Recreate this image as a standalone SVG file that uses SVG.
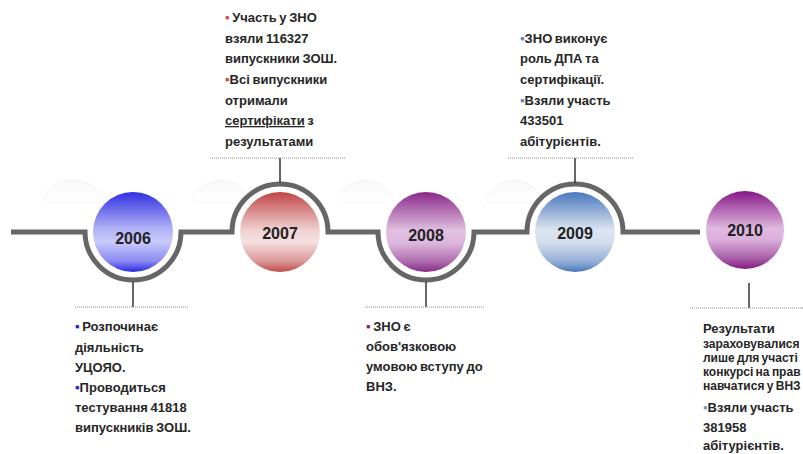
<svg xmlns="http://www.w3.org/2000/svg" width="803" height="454" viewBox="0 0 803 454">
<defs>
<linearGradient id="g2006" x1="0" y1="0" x2="0" y2="1">
<stop offset="0" stop-color="#2f2fe0"/><stop offset="0.45" stop-color="#aeb0f6"/><stop offset="0.62" stop-color="#cacafa"/><stop offset="0.86" stop-color="#8c8cf2"/><stop offset="1" stop-color="#2a2ae4"/>
</linearGradient>
<linearGradient id="g2007" x1="0" y1="0" x2="0" y2="1">
<stop offset="0" stop-color="#c04646"/><stop offset="0.48" stop-color="#f1d2d2"/><stop offset="0.62" stop-color="#f5dfdf"/><stop offset="0.86" stop-color="#dc9a9a"/><stop offset="1" stop-color="#c04c4c"/>
</linearGradient>
<linearGradient id="g2008" x1="0" y1="0" x2="0" y2="1">
<stop offset="0" stop-color="#8a288a"/><stop offset="0.48" stop-color="#e0c0e0"/><stop offset="0.64" stop-color="#ddb6dd"/><stop offset="0.86" stop-color="#b070b0"/><stop offset="1" stop-color="#882c88"/>
</linearGradient>
<linearGradient id="g2009" x1="0" y1="0" x2="0" y2="1">
<stop offset="0" stop-color="#4a78be"/><stop offset="0.48" stop-color="#dde6f1"/><stop offset="0.64" stop-color="#d2ddec"/><stop offset="0.88" stop-color="#90acd6"/><stop offset="1" stop-color="#4876ba"/>
</linearGradient>
<linearGradient id="g2010" x1="0" y1="0" x2="0" y2="1">
<stop offset="0" stop-color="#861888"/><stop offset="0.48" stop-color="#e0b8e0"/><stop offset="0.62" stop-color="#dcb0dc"/><stop offset="0.86" stop-color="#a860a8"/><stop offset="1" stop-color="#841a84"/>
</linearGradient>
<linearGradient id="ghost" x1="0" y1="0" x2="0" y2="1">
<stop offset="0" stop-color="#f8f8f8"/><stop offset="1" stop-color="#ffffff"/>
</linearGradient>
</defs>
<style>
.t{font-family:"Liberation Sans",Arial,sans-serif;font-size:13px;font-weight:bold;fill:#262626;word-spacing:-1px}
.s{font-size:12px}
.yr{font-family:"Liberation Sans",Arial,sans-serif;font-size:16px;font-weight:bold;fill:#222;text-anchor:middle}
.dot{stroke:#8a8a8a;stroke-width:1;stroke-dasharray:1 1;fill:none}
.stem{stroke:#333;stroke-width:1.5;fill:none}
.track{stroke:#666;stroke-width:5;fill:none}
.ball{stroke:none}
.gh{fill:url(#ghost);stroke:#f7f7f7;stroke-width:1}
</style>
<rect width="803" height="454" fill="#fff"/>
<g id="ghosts">
<path class="gh" d="M43 203 A30 23 0 0 1 103 203 Z"/>
<path class="gh" d="M193 203 A28 23 0 0 1 249 203 Z"/>
<path class="gh" d="M337 203 A28 23 0 0 1 393 203 Z"/>
<path class="gh" d="M487 203 A27 23 0 0 1 541 203 Z"/>
</g>
<g id="connectors">
<path class="track" d="M11 232 H85 A48 48 0 0 0 181 232 H232 A48 48 0 0 1 328 232 H378 A48 48 0 0 0 474 232 H527 A48 48 0 0 1 623 232 H700"/>
<line class="stem" x1="133" y1="282" x2="133" y2="307"/>
<line class="stem" x1="280" y1="183" x2="280" y2="158"/>
<line class="stem" x1="426" y1="282" x2="426" y2="307"/>
<line class="stem" x1="575" y1="183" x2="575" y2="158"/>
<line class="stem" x1="749" y1="283" x2="749" y2="308"/>
</g>
<g id="node-2006">
<circle class="ball" cx="133" cy="232" r="40" fill="url(#g2006)"/>
<text class="yr" x="133" y="244">2006</text>
<line class="dot" x1="75" y1="307" x2="188" y2="307"/>
<text class="t" x="75" y="331"><tspan fill="#1a1ad8">▪</tspan> Розпочинає</text>
<text class="t" x="75" y="352">діяльність</text>
<text class="t" x="75" y="372">УЦОЯО.</text>
<text class="t" x="75" y="392"><tspan fill="#1a1ad8">▪</tspan>Проводиться</text>
<text class="t" x="75" y="412">тестування 41818</text>
<text class="t" x="75" y="432">випускників ЗОШ.</text>
</g>
<g id="node-2007">
<circle class="ball" cx="280" cy="232" r="40" fill="url(#g2007)"/>
<text class="yr" x="280" y="239">2007</text>
<line class="dot" x1="210" y1="158" x2="345" y2="158"/>
<text class="t" x="225" y="22"><tspan fill="#d04848">▪</tspan> Участь у ЗНО</text>
<text class="t" x="225" y="43">взяли 116327</text>
<text class="t" x="225" y="63">випускники ЗОШ.</text>
<text class="t" x="225" y="84"><tspan fill="#d04848">▪</tspan>Всі випускники</text>
<text class="t" x="225" y="105">отримали</text>
<text class="t" x="225" y="125"><tspan text-decoration="underline">сертифікати</tspan> з</text>
<text class="t" x="225" y="146">результатами</text>
</g>
<g id="node-2008">
<circle class="ball" cx="426" cy="232" r="40" fill="url(#g2008)"/>
<text class="yr" x="426" y="241">2008</text>
<line class="dot" x1="365" y1="307" x2="485" y2="307"/>
<text class="t" x="366" y="331"><tspan fill="#802080">▪</tspan> ЗНО є</text>
<text class="t" x="366" y="351">обов'язковою</text>
<text class="t" x="366" y="371">умовою вступу до</text>
<text class="t" x="366" y="391">ВНЗ.</text>
</g>
<g id="node-2009">
<circle class="ball" cx="575" cy="232" r="40" fill="url(#g2009)"/>
<text class="yr" x="575" y="239">2009</text>
<line class="dot" x1="508" y1="158" x2="633" y2="158"/>
<text class="t" x="520" y="43"><tspan fill="#5a86c6">▪</tspan>ЗНО виконує</text>
<text class="t" x="520" y="63">роль ДПА та</text>
<text class="t" x="520" y="84">сертифікації.</text>
<text class="t" x="520" y="105"><tspan fill="#5a86c6">▪</tspan>Взяли участь</text>
<text class="t" x="520" y="125">433501</text>
<text class="t" x="520" y="146">абітурієнтів.</text>
</g>
<g id="node-2010">
<circle class="ball" cx="745" cy="230" r="39" fill="url(#g2010)"/>
<text class="yr" x="745" y="236">2010</text>
<line class="dot" x1="690" y1="308" x2="803" y2="308"/>
<text class="t" x="703" y="333">Результати</text>
<text class="t s" x="703" y="348">зараховувалися</text>
<text class="t s" x="703" y="362">лише для участі</text>
<text class="t s" x="703" y="376">конкурсі на прав</text>
<text class="t s" x="703" y="390">навчатися у ВНЗ</text>
<text class="t" x="703" y="412"><tspan fill="#7b9bcc">▪</tspan>Взяли участь</text>
<text class="t" x="703" y="432">381958</text>
<text class="t" x="703" y="450">абітурієнтів.</text>
</g>
</svg>
